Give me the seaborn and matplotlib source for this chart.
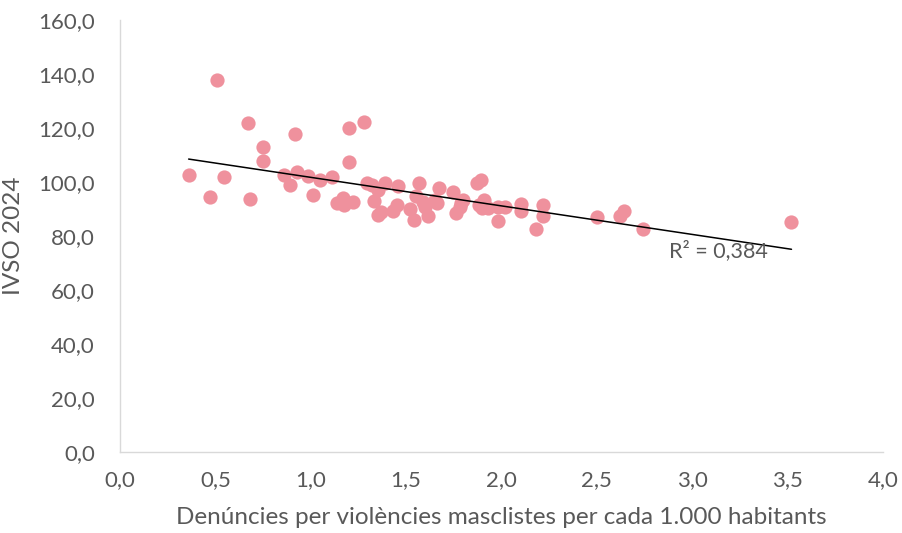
import numpy as np
import pandas as pd
import matplotlib
matplotlib.use("Agg")
import matplotlib.pyplot as plt
import seaborn as sb
from matplotlib.ticker import FuncFormatter

# denuncies per 1.000 habitants
denuncies = [0.36, 0.47, 0.51, 0.545, 0.67, 0.68, 0.75, 0.75, 0.86, 0.89,
             0.92, 0.93, 0.985, 1.01, 1.05, 1.11, 1.14, 1.17, 1.175, 1.20,
             1.20, 1.22, 1.28, 1.295, 1.32, 1.33, 1.35, 1.35, 1.37, 1.39,
             1.43, 1.45, 1.46, 1.52, 1.54, 1.55, 1.57, 1.59, 1.60, 1.615,
             1.65, 1.66, 1.67, 1.745, 1.76, 1.78, 1.79, 1.80, 1.87, 1.89,
             1.88, 1.90, 1.91, 1.93, 1.98, 1.98, 2.02, 2.10, 2.10, 2.18,
             2.22, 2.22, 2.50, 2.62, 2.64, 2.74, 3.52]
# IVSO 2024
ivso = [102.6, 94.4, 138.0, 101.8, 121.8, 93.7, 113.0, 108.0, 102.6, 98.9,
        117.8, 103.7, 102.2, 95.2, 100.7, 101.9, 92.2, 94.1, 91.5, 120.0,
        107.4, 92.6, 122.2, 99.6, 98.9, 93.0, 97.0, 87.8, 88.9, 99.6,
        89.3, 91.5, 98.5, 90.0, 85.9, 94.8, 99.6, 92.6, 90.7, 87.4,
        93.3, 92.2, 97.8, 96.3, 88.5, 90.7, 92.2, 93.3, 99.6, 100.7,
        91.5, 90.4, 93.3, 90.4, 85.6, 90.7, 90.7, 91.9, 89.3, 82.6,
        91.5, 87.4, 87.0, 87.4, 89.3, 82.6, 85.2]

x_ticks = [0, 0.5, 1, 1.5, 2, 2.5, 3, 3.5, 4]
y_ticks = [0, 20, 40, 60, 80, 100, 120, 140, 160]

df = pd.DataFrame({"denuncies": denuncies, "ivso": ivso})

sb.set_style("white")
plt.rcParams['font.family'] = ['Lato', 'DejaVu Sans']

fig = plt.figure(figsize=(9.02, 5.33), dpi=100)
ax = fig.add_axes([0.133, 0.152, 0.846, 0.810])

sb.scatterplot(data=df, x="denuncies", y="ivso", ax=ax, color="#EF919D",
               s=105, linewidth=0, alpha=1, zorder=2)
sb.regplot(data=df, x="denuncies", y="ivso", ax=ax, scatter=False, ci=None,
           line_kws={"color": "black", "linewidth": 1.1, "zorder": 3})

# R squared (about 0,384)
slope, icpt = np.polyfit(df["denuncies"], df["ivso"], 1)
pred = slope * df["denuncies"] + icpt
r2 = 1 - ((df["ivso"] - pred) ** 2).sum() / ((df["ivso"] - df["ivso"].mean()) ** 2).sum()
ax.text(2.88, 74.5, "R² = 0,384", color="#595959", fontsize=15.5,
        ha="left", va="center")

ax.set_xlim(0, 4)
ax.set_ylim(0, 160)
ax.set_xticks(x_ticks)
ax.set_yticks(y_ticks)
ax.xaxis.set_major_formatter(FuncFormatter(lambda v, p: f"{v:.1f}".replace(".", ",")))
ax.yaxis.set_major_formatter(FuncFormatter(lambda v, p: f"{v:.1f}".replace(".", ",")))
ax.tick_params(axis="x", length=0, labelsize=16, labelcolor="#595959", pad=13)
ax.tick_params(axis="y", length=0, labelsize=16, labelcolor="#595959", pad=18)

ax.set_xlabel("Denúncies per violències masclistes per cada 1.000 habitants",
              fontsize=17.5, color="#595959", labelpad=12)
ax.set_ylabel("IVSO 2024", fontsize=17.5, color="#595959", labelpad=10)

for side in ["top", "right"]:
    ax.spines[side].set_visible(False)
for side in ["left", "bottom"]:
    ax.spines[side].set_color("#D9D9D9")
    ax.spines[side].set_linewidth(1)

fig.savefig("out.png", dpi=100)
